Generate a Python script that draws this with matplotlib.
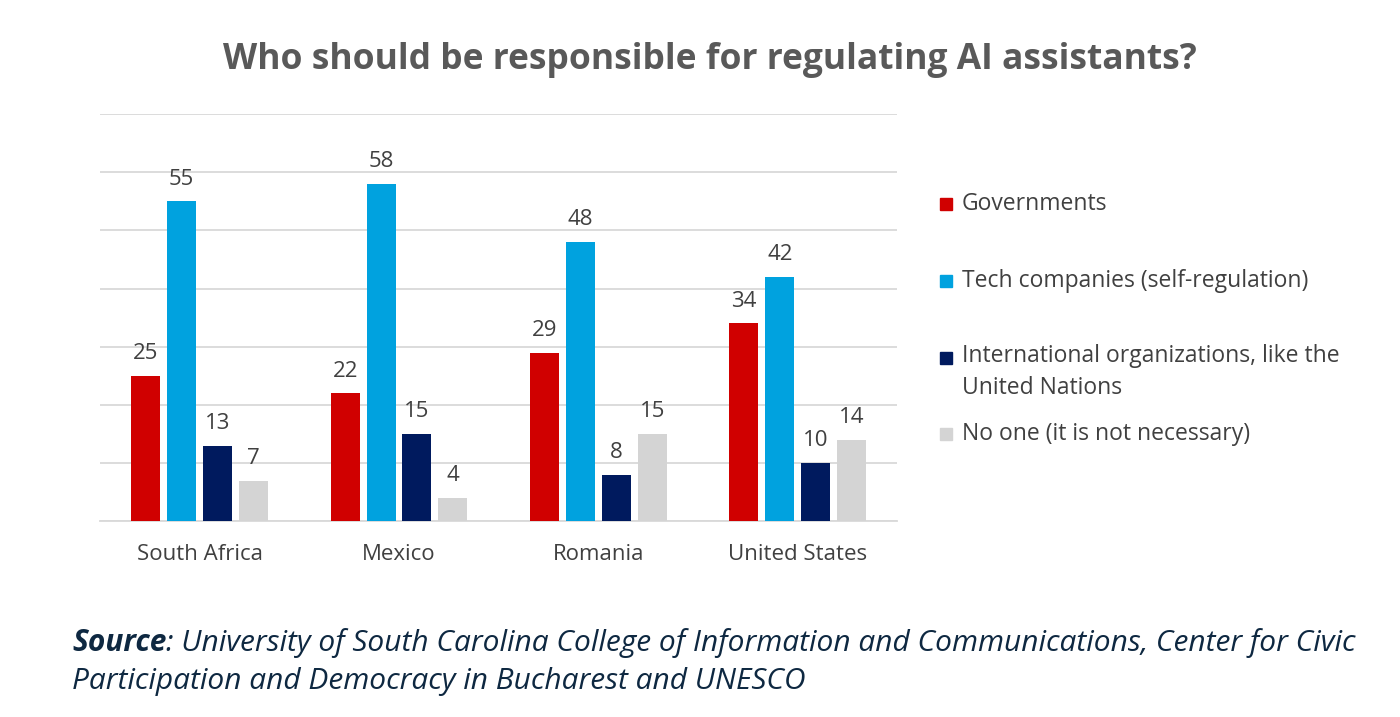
import numpy as np
import matplotlib
matplotlib.use('Agg')
import matplotlib.pyplot as plt

countries = ['South Africa', 'Mexico', 'Romania', 'United States']
series_names = ['Governments', 'Tech companies (self-regulation)',
                'International organizations, like the\nUnited Nations',
                'No one (it is not necessary)']
governments = [25, 22, 29, 34]
tech_companies = [55, 58, 48, 42]
international = [13, 15, 8, 10]
no_one = [7, 4, 15, 14]

colors = ['#D00000', '#00A2DF', '#001A5E', '#D4D4D4']
text_color = '#404040'

plt.rcParams['font.family'] = ['Open Sans', 'DejaVu Sans']

fig = plt.figure(figsize=(14, 7.17), dpi=100)
ax = fig.add_axes([0.0714, 0.273, 0.5696, 0.568])

x = np.arange(len(countries))
width = 0.145
step = 0.18
all_series = [governments, tech_companies, international, no_one]
for i, vals in enumerate(all_series):
    pos = x + (i - 1.5) * step
    ax.bar(pos, vals, width, color=colors[i], zorder=3)
    for p, v in zip(pos, vals):
        ax.text(p, v + 2.0, str(v), ha='center', va='bottom',
                fontsize=16, color=text_color)

ax.set_xlim(-0.5, 3.5)
ax.set_ylim(0, 70)
ax.set_yticks(np.arange(0, 71, 10))
ax.yaxis.grid(True, color='#D9D9D9', linewidth=1.3, zorder=0)
ax.tick_params(axis='y', left=False, labelleft=False)
ax.tick_params(axis='x', bottom=False, labelsize=16, labelcolor=text_color, pad=13)
ax.set_xticks(x)
ax.set_xticklabels(countries)
for s in ['top', 'right', 'left']:
    ax.spines[s].set_visible(False)
ax.spines['bottom'].set_color('#D9D9D9')
ax.spines['bottom'].set_linewidth(1.3)

# legend drawn by hand to match the spacing
leg_y = [204, 281, 372, 434]
for i, name in enumerate(series_names):
    yf = 1 - leg_y[i] / 717
    sq_y = 1 - 358 / 717 if '\n' in name else yf
    fig.patches.append(plt.Rectangle((940 / 1400, sq_y - 0.009), 12 / 1400, 12 / 717,
                                     transform=fig.transFigure, color=colors[i]))
    fig.text(962 / 1400, yf, name, fontsize=16.5, color=text_color,
             va='center', ha='left', linespacing=1.4)

fig.text(710 / 1400, 1 - 60 / 717, 'Who should be responsible for regulating AI assistants?',
         ha='center', va='center', fontsize=25.5, fontweight='bold', color='#595959')

src_color = '#0E2841'
src = fig.text(72 / 1400, 1 - 643 / 717, 'Source', fontsize=21.5, fontweight='bold',
               fontstyle='italic', color=src_color, va='center')
fig.add_artist(plt.Annotation(
    ': University of South Carolina College of Information and Communications, Center for Civic',
    xy=(1, 0.5), xycoords=src, va='center', ha='left',
    fontsize=21.5, fontstyle='italic', color=src_color))
fig.text(72 / 1400, 1 - 682 / 717, 'Participation and Democracy in Bucharest and UNESCO',
         fontsize=21.5, fontstyle='italic', color=src_color, va='center')

fig.savefig('out.png', dpi=100)
